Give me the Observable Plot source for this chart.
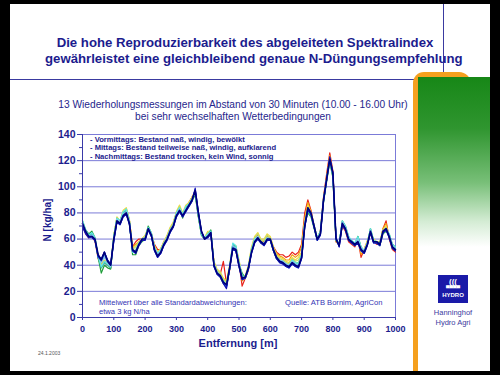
<!DOCTYPE html>
<html><head><meta charset="utf-8">
<script src="https://cdn.jsdelivr.net/npm/d3@7"></script>
<script src="https://cdn.jsdelivr.net/npm/@observablehq/plot@0.6"></script>
<style>
html,body{margin:0;padding:0;background:#000;width:500px;height:375px;overflow:hidden;font-family:'Liberation Sans',Arial,sans-serif;}
.abs{position:absolute;white-space:nowrap;}
#slide{position:absolute;left:10px;top:4px;width:480px;height:367px;background:#fff;}
#title{left:45px;top:35px;width:400px;text-align:center;font-weight:bold;font-size:13.2px;line-height:16px;color:#1c1c8e;}
#sub{left:33px;top:98.5px;width:400px;text-align:center;font-size:10.2px;line-height:12.5px;color:#26268c;}
.legend{left:90px;top:135.5px;font-weight:bold;font-size:7.6px;line-height:8.9px;color:#1c1c8e;}
.note{font-size:7.6px;line-height:9px;color:#3434b4;}
#xlab{left:138px;top:337px;width:200px;text-align:center;font-weight:bold;font-size:11px;color:#1c1c8e;}
#ylab{left:47px;top:220px;transform:translate(-50%,-50%) rotate(-90deg);font-weight:bold;font-size:10px;color:#1c1c8e;}
#date{left:38px;top:350px;font-size:5px;color:#555;}
</style></head><body>
<div id="slide"></div>
<div class="abs" style="left:10px;top:79px;width:433px;height:1px;background:#3a3aa0"></div>
<div class="abs" style="left:443px;top:4px;width:1px;height:76px;background:#3a3aa0"></div>
<div class="abs" style="left:413px;top:72px;width:58px;height:26px;background:#f5a01e;border-radius:11px 12px 0 0"></div>
<div class="abs" style="left:413px;top:85px;width:5px;height:286px;background:#f5a01e"></div>
<div class="abs" style="left:418px;top:77px;width:72px;height:170px;background:linear-gradient(#178717 0%,#2f952f 30%,#78bf78 62%,#d4ecd4 85%,#ffffff 100%)"></div>
<div class="abs" style="left:438px;top:275px;width:30px;height:28px;background:#1a1aa8;color:#fff;text-align:center;font-weight:bold">
  <div style="font-size:8px;line-height:9px;margin-top:2px">(((</div>
  <div style="font-size:5px;line-height:5px">▀▀▀▀</div>
  <div style="font-size:6px;line-height:8px">HYDRO</div>
</div>
<div class="abs" style="left:423px;top:308px;width:60px;text-align:center;font-size:7.5px;line-height:10px;color:#3a3aa0">Hanninghof<br>Hydro Agri</div>
<div id="title" class="abs">Die hohe Reproduzierbarkeit des abgeleiteten Spektralindex<br>gewährleistet eine gleichbleibend genaue N-Düngungsempfehlung</div>
<div id="sub" class="abs">13 Wiederholungsmessungen im Abstand von 30 Minuten (10.00 - 16.00 Uhr)<br>bei sehr wechselhaften Wetterbedingungen</div>
<div id="chart"></div>
<div class="abs legend">- Vormittags: Bestand naß, windig, bewölkt<br>- Mittags: Bestand teilweise naß, windig, aufklarend<br>- Nachmittags: Bestand trocken, kein Wind, sonnig</div>
<div class="abs note" style="left:99px;top:297.5px">Mittelwert über alle Standardabweichungen:<br>etwa 3 kg N/ha</div>
<div class="abs note" style="left:285px;top:297.5px">Quelle: ATB Bornim, AgriCon</div>
<div id="xlab" class="abs">Entfernung [m]</div>
<div id="ylab" class="abs">N [kg/ha]</div>
<div id="date" class="abs">24.1.2003</div>
<script>
const distances = [0,10,20,30,40,50,60,70,80,90,100,110,120,130,140,150,160,170,180,190,200,210,220,230,240,250,260,270,280,290,300,310,320,330,340,350,360,370,380,390,400,410,420,430,440,450,460,470,480,490,500,510,520,530,540,550,560,570,580,590,600,610,620,630,640,650,660,670,680,690,700,710,720,730,740,750,760,770,780,790,800,810,820,830,840,850,860,870,880,890,900,910,920,930,940,950,960,970,980,990,1000];
const xTicks = [0,100,200,300,400,500,600,700,800,900,1000];
const yTicks = [0,20,40,60,80,100,120,140];
const yMinor = [10,30,50,70,90,110,130];

const sRed = [70,64,61,63,58,45,40,42,40,38, 62,76,74,80,82,74,54,58,60,60, 62,68,64,56,52,52,58,62,68,72, 80,84,78,84,88,92,96,78,64,60, 64,64,42,35,33,43,26,36,55,54, 42,24,30,36,52,60,63,58,57,61, 60,54,50,48,48,46,47,50,48,50, 56,80,90,82,70,60,66,92,110,126, 112,58,56,70,66,58,56,54,60,46, 52,58,64,58,56,56,68,74,60,52,50];
const sOrange = [71,65,62,63,59,46,41,43,41,39, 62,76,73,80,83,74,54,56,58,60, 62,68,64,54,50,52,58,62,68,72, 80,84,79,84,88,92,97,79,64,60, 65,65,42,36,33,30,27,38,55,54, 42,28,30,38,52,61,64,59,58,62, 61,53,49,47,46,44,44,48,46,48, 54,76,88,81,70,60,66,91,108,124, 111,58,56,71,67,59,57,55,60,48, 52,58,65,59,57,57,68,72,61,53,51];
const sYellow = [72,66,63,64,60,47,42,44,42,40, 63,77,74,82,84,75,53,55,58,60, 63,69,65,55,50,53,58,63,69,73, 81,86,80,86,88,92,96,79,65,61, 66,66,43,37,35,30,28,40,56,55, 44,32,32,40,54,62,65,60,60,64, 62,54,48,46,45,43,42,46,44,46, 50,74,86,80,70,61,66,90,106,122, 110,59,57,72,68,60,58,56,61,50, 52,59,66,60,58,58,67,70,62,54,52];
const sYellowGreen = [72,66,63,64,60,46,40,43,41,39, 62,76,74,81,83,74,52,54,57,60, 62,69,64,54,49,52,57,62,68,72, 80,85,79,85,87,91,96,79,65,61, 65,66,42,36,34,29,27,39,56,54, 43,31,31,39,53,61,64,59,59,63, 61,53,47,45,44,42,41,45,43,44, 49,73,84,79,70,61,66,90,106,121, 109,59,57,72,68,60,58,56,61,51, 51,58,66,59,58,57,67,69,62,54,52];
const sLightGreen = [73,66,63,64,60,46,38,42,40,38, 62,76,74,80,82,73,50,52,56,60, 61,69,64,53,48,51,57,61,67,71, 80,84,79,84,86,90,95,78,64,60, 64,66,41,35,32,28,25,37,56,54, 41,33,31,38,52,60,62,58,57,61, 60,52,46,44,43,41,40,44,42,42, 48,72,82,78,69,60,65,89,105,120, 108,59,56,73,69,61,59,56,62,53, 51,57,68,59,58,56,66,68,63,55,53];
const sGreen = [74,67,64,66,61,46,34,40,38,37, 61,75,73,79,81,72,48,48,55,58, 60,70,64,52,47,50,56,60,66,70, 79,83,76,84,85,89,94,77,63,60, 63,67,40,34,31,26,24,37,55,53, 40,34,30,37,51,59,61,57,56,60, 59,51,45,43,42,40,39,43,41,41, 47,71,80,77,68,59,65,88,104,119, 107,60,56,74,70,62,58,55,62,54, 50,56,68,58,57,55,64,66,64,56,54];
const sTeal = [73,66,63,64,60,46,38,42,40,38, 61,75,73,80,82,73,50,50,56,59, 60,69,64,53,48,51,56,60,66,70, 79,83,78,84,86,90,95,78,63,60, 63,66,40,34,31,27,24,37,56,54, 41,32,30,37,51,59,61,57,56,60, 59,51,45,43,42,40,39,43,41,40, 47,71,81,78,69,60,65,89,105,120, 108,59,56,73,69,61,58,56,61,53, 50,56,67,58,57,56,65,67,63,55,53];
const sCyan = [74,67,63,65,61,47,39,43,41,39, 62,76,74,81,83,74,50,51,57,60, 61,69,65,54,49,52,57,61,67,71, 80,84,79,85,87,91,96,79,64,61, 64,66,41,35,32,28,25,38,57,55, 42,32,31,38,52,60,62,58,57,61, 60,52,46,44,43,41,40,44,42,41, 48,72,82,79,70,61,66,90,106,121, 109,60,57,74,70,62,59,57,62,54, 51,57,68,59,58,57,66,68,64,56,54];
const sLightBlue = [72,66,62,63,60,47,42,46,42,39, 61,75,73,79,81,73,51,50,56,60, 61,68,64,53,48,51,56,61,67,71, 79,83,78,83,86,90,96,79,65,60, 63,65,41,35,32,27,24,38,55,53, 41,31,31,38,51,59,62,58,57,61, 60,52,46,44,43,41,40,43,41,40, 47,71,83,79,70,60,65,90,106,121, 109,60,56,73,69,61,58,56,60,53, 51,57,67,58,58,56,66,68,63,55,53];
const sSkyBlue = [71,65,62,62,59,47,43,48,43,40, 60,74,72,78,80,72,52,50,56,60, 60,68,63,52,47,50,56,60,66,70, 78,82,78,82,86,90,97,80,65,60, 62,65,40,34,32,27,24,38,54,52, 40,30,31,38,50,58,61,58,56,60, 60,52,46,43,42,40,39,42,40,39, 46,70,84,80,70,60,64,90,106,121, 110,60,55,72,68,60,58,56,58,52, 50,56,66,58,58,56,66,68,62,54,52];
const sBlue = [70,65,61,62,59,46,44,50,44,40, 58,73,71,77,79,71,51,50,55,59, 59,67,62,51,46,49,55,59,65,69, 77,81,77,81,85,89,98,81,66,60, 61,64,39,33,31,26,23,37,52,51, 39,29,30,37,49,57,60,57,55,59, 59,51,45,42,41,39,38,41,39,38, 45,69,83,79,69,59,63,89,105,122, 111,61,54,71,67,59,57,55,57,51, 49,55,65,57,57,55,65,67,61,53,51];
const sDarkBlue = [69,64,61,61,59,47,45,50,44,41, 59,73,71,77,79,71,51,49,55,59, 59,67,62,51,46,49,55,59,65,69, 77,81,77,81,85,89,99,81,66,60, 61,64,39,33,31,26,22,37,52,51, 39,29,30,37,49,57,60,57,55,59, 59,51,45,42,41,39,38,41,39,38, 45,69,82,79,69,59,63,89,105,123, 111,61,54,71,67,59,57,55,57,51, 49,55,65,57,57,55,65,67,61,53,51];
const sNavy = [72,66,62,62,60,48,44,50,43,40, 60,74,72,78,80,72,52,50,56,60, 60,68,63,52,47,50,56,60,66,70, 78,82,78,82,86,90,97,80,66,60, 62,65,40,34,32,27,25,38,53,52, 40,30,31,38,50,58,61,58,56,60, 60,52,46,43,42,40,39,42,40,39, 46,70,84,80,70,60,64,90,106,121, 110,60,55,72,68,60,58,56,58,52, 50,56,66,58,58,56,66,68,62,54,52];

const seriesList = [
  {values: sRed, color: "#e8201a"},
  {values: sOrange, color: "#f39c12"},
  {values: sYellow, color: "#f0dc40"},
  {values: sYellowGreen, color: "#c4dc6c"},
  {values: sLightGreen, color: "#7ede7e"},
  {values: sGreen, color: "#1f9e3a"},
  {values: sTeal, color: "#3cb8a8"},
  {values: sCyan, color: "#5ee6e6"},
  {values: sLightBlue, color: "#8cc8f0"},
  {values: sSkyBlue, color: "#3c8ce0"},
  {values: sBlue, color: "#2040e8"},
  {values: sDarkBlue, color: "#1010b0"},
  {values: sNavy, color: "#00007a"}
];

const lineMarks = seriesList.map((s, k) => Plot.lineY(
  s.values.map((v, i) => ({d: distances[i], v})),
  {x: "d", y: "v", stroke: s.color, strokeWidth: k === seriesList.length - 1 ? 1.6 : 1.2, strokeLinejoin: "round"}
));

const axisColor = "#1c1c8e";
const gridColor = "#7b7bd8";
const svg = Plot.plot({
  width: 400, height: 240,
  marginLeft: 72, marginRight: 15, marginTop: 14, marginBottom: 43,
  style: {background: "transparent", fontFamily: "'Liberation Sans', Arial, sans-serif", overflow: "visible"},
  x: {domain: [0, 1000], axis: null},
  y: {domain: [0, 140], axis: null},
  marks: [
    Plot.gridY(yTicks, {stroke: gridColor, strokeOpacity: 1, strokeWidth: 1}),
    Plot.ruleX([1000], {stroke: gridColor, strokeWidth: 1}),
    ...lineMarks,
    Plot.ruleX([0], {stroke: "#3a3aa8", strokeWidth: 1}),
    Plot.ruleY([0], {stroke: "#3a3aa8", strokeWidth: 1}),
    Plot.axisY(yTicks, {tickSize: 5, tickPadding: 2, stroke: "#3a3aa8", fill: axisColor, fontWeight: "bold", fontSize: 10.5, label: null, tickFormat: d => String(d)}),
    Plot.axisY(yMinor, {tickSize: 3, text: null, stroke: "#3a3aa8", label: null}),
    Plot.axisX(xTicks, {tickSize: 3, tickPadding: 5, stroke: "#3a3aa8", fill: axisColor, fontWeight: "bold", fontSize: 9, label: null, tickFormat: d => String(d)})
  ]
});
svg.style.position = "absolute";
svg.style.left = "10px";
svg.style.top = "120px";
document.getElementById("chart").appendChild(svg);
</script>
</body></html>
